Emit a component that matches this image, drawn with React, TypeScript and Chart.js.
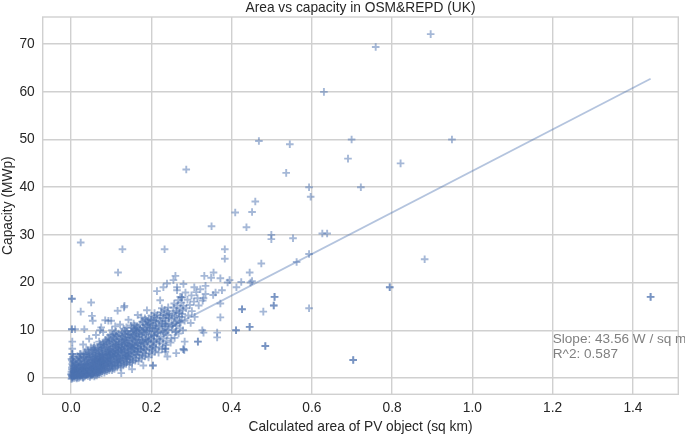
import React, { useEffect, useRef } from "react";
import { Chart, registerables } from "chart.js";

Chart.register(...registerables);

const chartTitle = "Area vs capacity in OSM&REPD (UK)";
const xAxisTitle = "Calculated area of PV object (sq km)";
const yAxisTitle = "Capacity (MWp)";
const xTickValues = [0, 0.2, 0.4, 0.6, 0.8, 1.0, 1.2, 1.4];
const yTickValues = [0, 10, 20, 30, 40, 50, 60, 70];
const annotationLines = ["Slope: 43.56 W / sq m", "R^2: 0.587"];
const annotationAt = [1.2, 7.3];
const fitLineX = [0, 1.444];
const fitLineY = [-0.15, 62.75];

// dense cluster of small installations (area sq km, capacity MWp)
const clusterPoints: [number, number][] = [
  [0.001,-0.2],[0.004,0.1],[0.002,0.4],[0.006,0.6],[0.003,0.9],[0.008,1.1],[0.001,1.3],[0.005,1.6],[0.009,1.9],[0.002,2.2],[0.006,2.5],[0.003,2.9],[0.011,0.2],[0.010,0.7],[0.007,1.4],[0.012,2.0],[0.004,3.3],[0.002,3.7],[0.008,0.0],[0.001,0.6],[0.010,2.8],[0.005,4.4],
  [0.014,-0.1],[0.017,0.3],[0.021,0.5],[0.015,0.8],[0.025,0.9],[0.019,1.2],[0.023,1.5],[0.016,1.8],[0.027,2.0],[0.020,2.3],[0.014,2.6],[0.024,2.9],[0.018,3.3],[0.026,3.7],[0.022,4.2],[0.016,4.6],[0.028,0.2],[0.013,1.1],[0.025,1.3],[0.021,2.7],[0.019,0.0],
  [0.030,0.0],[0.034,0.3],[0.038,0.6],[0.042,0.4],[0.031,0.9],[0.036,1.1],[0.044,1.0],[0.033,1.4],[0.040,1.6],[0.029,1.9],[0.037,2.1],[0.043,2.3],[0.032,2.6],[0.039,2.9],[0.045,3.1],[0.035,3.4],[0.041,3.8],[0.030,4.1],[0.038,4.5],[0.044,4.9],[0.034,5.3],[0.042,5.8],[0.036,1.8],[0.040,0.9],[0.033,3.0],
  [0.047,0.2],[0.052,0.5],[0.058,0.3],[0.049,0.8],[0.055,1.0],[0.061,1.2],[0.046,1.4],[0.053,1.7],[0.060,1.9],[0.050,2.2],[0.057,2.5],[0.062,2.8],[0.048,3.0],[0.054,3.3],[0.059,3.6],[0.051,3.9],[0.056,4.3],[0.062,4.6],[0.047,4.9],[0.053,5.3],[0.060,5.6],[0.055,6.0],[0.049,6.4],[0.058,6.8],[0.052,2.0],[0.056,1.4],
  [0.064,0.5],[0.070,0.8],[0.076,1.0],[0.067,1.3],[0.073,1.6],[0.079,1.8],[0.065,2.0],[0.071,2.3],[0.077,2.6],[0.068,2.9],[0.074,3.2],[0.080,3.4],[0.066,3.7],[0.072,4.0],[0.078,4.3],[0.069,4.6],[0.075,5.0],[0.063,5.3],[0.071,5.7],[0.077,6.0],[0.067,6.4],[0.074,6.8],[0.079,7.2],[0.070,7.6],[0.076,2.0],[0.072,3.6],
  [0.083,1.1],[0.089,1.4],[0.095,1.6],[0.086,1.9],[0.092,2.2],[0.098,2.5],[0.082,2.7],[0.088,3.0],[0.094,3.3],[0.099,3.6],[0.085,3.9],[0.091,4.2],[0.097,4.5],[0.084,4.8],[0.090,5.1],[0.096,5.4],[0.087,5.8],[0.093,6.1],[0.099,6.5],[0.082,6.9],[0.089,7.2],[0.095,7.6],[0.086,8.0],[0.092,8.5],[0.097,9.0],[0.091,3.7],[0.094,4.9],
  [0.102,1.6],[0.108,1.9],[0.115,2.2],[0.104,2.5],[0.111,2.8],[0.118,3.1],[0.101,3.4],[0.107,3.7],[0.114,4.0],[0.120,4.3],[0.105,4.6],[0.112,4.9],[0.117,5.3],[0.103,5.6],[0.110,5.9],[0.116,6.3],[0.106,6.7],[0.113,7.0],[0.119,7.4],[0.104,7.8],[0.109,8.2],[0.115,8.7],[0.107,9.2],[0.112,9.7],[0.118,3.6],[0.110,5.1],
  [0.123,2.2],[0.130,2.6],[0.137,2.9],[0.126,3.2],[0.133,3.5],[0.140,3.8],[0.122,4.1],[0.129,4.4],[0.136,4.8],[0.142,5.1],[0.125,5.4],[0.132,5.8],[0.139,6.1],[0.124,6.5],[0.131,6.8],[0.138,7.2],[0.127,7.6],[0.134,8.0],[0.141,8.4],[0.128,8.8],[0.135,9.3],[0.140,9.8],[0.131,10.3],[0.137,4.5],[0.126,6.0],
  [0.145,2.8],[0.152,3.2],[0.160,3.6],[0.148,4.0],[0.155,4.4],[0.163,4.8],[0.144,5.2],[0.151,5.6],[0.158,6.0],[0.165,6.3],[0.147,6.7],[0.154,7.1],[0.161,7.5],[0.146,7.9],[0.153,8.3],[0.159,8.7],[0.164,9.2],[0.150,9.6],[0.157,10.0],[0.162,10.5],[0.149,11.0],[0.156,11.4],[0.160,5.4],[0.152,6.4],
  [0.168,3.5],[0.176,4.0],[0.184,4.5],[0.171,4.9],[0.179,5.4],[0.187,5.8],[0.167,6.2],[0.174,6.7],[0.182,7.1],[0.189,7.6],[0.170,8.0],[0.178,8.5],[0.185,9.0],[0.169,9.4],[0.176,9.9],[0.183,10.3],[0.190,10.8],[0.172,11.2],[0.180,11.7],[0.186,12.2],[0.175,12.7],[0.181,6.4],[0.173,7.3],
  [0.193,4.3],[0.201,4.9],[0.209,5.5],[0.196,6.1],[0.204,6.7],[0.212,7.2],[0.192,7.7],[0.199,8.3],[0.207,8.8],[0.214,9.4],[0.195,9.9],[0.203,10.4],[0.210,11.0],[0.197,11.5],[0.205,12.0],[0.213,12.6],[0.200,13.1],[0.208,13.6],[0.194,12.3],[0.206,7.5],
  [0.218,5.3],[0.227,6.1],[0.236,6.9],[0.221,7.6],[0.230,8.3],[0.240,9.0],[0.217,9.6],[0.225,10.2],[0.234,10.8],[0.243,11.4],[0.220,12.0],[0.229,12.6],[0.238,13.2],[0.224,13.8],[0.233,14.3],[0.242,14.8],[0.228,11.0],[0.236,9.5],
  [0.248,7.4],[0.258,8.4],[0.268,9.3],[0.252,10.1],[0.262,10.9],[0.273,11.6],[0.250,12.3],[0.259,13.0],[0.269,13.6],[0.278,14.2],[0.255,14.7],[0.265,15.2],[0.275,15.8],[0.260,11.5],[0.270,12.8],
  [0.283,12.0],[0.292,13.1],[0.301,14.0],[0.287,14.6],[0.296,15.3],[0.306,16.0],[0.315,16.7],[0.290,16.4],[0.300,17.3],[0.312,18.0],[0.322,18.6],[0.285,17.9],[0.298,11.5],[0.308,12.8],[0.318,15.2],[0.328,16.2],[0.335,17.6],
];

// more records inside the same dense band
const clusterPointsB: [number, number][] = [
  [0.003,0.2],[0.007,0.4],[0.000,0.8],[0.005,1.2],[0.010,1.5],[0.002,1.8],[0.008,2.2],[0.004,2.6],[0.011,3.1],[0.006,3.5],[0.001,4.0],[0.009,0.9],[0.012,1.7],[0.003,-0.1],
  [0.015,0.1],[0.022,0.2],[0.027,0.6],[0.018,0.7],[0.013,1.4],[0.021,1.0],[0.026,1.7],[0.017,2.1],[0.023,2.4],[0.028,2.7],[0.015,3.0],[0.020,3.5],[0.025,4.0],[0.019,4.4],[0.024,5.0],[0.014,3.9],
  [0.031,0.2],[0.036,0.5],[0.041,0.8],[0.045,1.3],[0.030,1.2],[0.035,1.6],[0.039,2.4],[0.044,2.0],[0.031,2.2],[0.034,2.8],[0.042,3.3],[0.037,3.7],[0.032,4.4],[0.040,4.2],[0.045,4.4],[0.036,4.9],[0.043,5.4],[0.038,6.0],
  [0.048,0.5],[0.054,0.7],[0.060,0.6],[0.051,1.1],[0.057,1.5],[0.062,1.7],[0.049,1.9],[0.055,2.2],[0.061,2.4],[0.047,2.6],[0.053,2.8],[0.058,3.1],[0.062,3.4],[0.050,3.5],[0.056,3.9],[0.060,4.1],[0.048,4.4],[0.054,4.7],[0.059,5.0],[0.051,5.8],[0.057,6.3],[0.061,6.0],
  [0.066,0.9],[0.072,1.2],[0.078,1.4],[0.064,1.6],[0.070,2.0],[0.075,2.3],[0.080,2.5],[0.066,2.6],[0.073,2.8],[0.078,3.0],[0.064,3.3],[0.070,3.5],[0.076,3.8],[0.080,4.0],[0.067,4.2],[0.073,4.5],[0.079,4.8],[0.065,4.9],[0.071,5.2],[0.077,5.5],[0.068,5.9],[0.075,6.3],[0.080,6.5],[0.072,7.1],
  [0.085,1.5],[0.091,1.8],[0.097,2.0],[0.083,2.3],[0.089,2.6],[0.095,2.9],[0.084,3.2],[0.090,3.5],[0.096,3.9],[0.082,4.1],[0.088,4.4],[0.094,4.7],[0.099,5.0],[0.086,5.3],[0.092,5.6],[0.098,6.0],[0.084,6.3],[0.090,6.6],[0.096,7.0],[0.088,7.7],[0.094,8.1],[0.083,7.5],[0.099,8.0],
  [0.104,2.0],[0.110,2.4],[0.117,2.6],[0.102,2.9],[0.108,3.2],[0.115,3.4],[0.120,3.8],[0.104,4.1],[0.110,4.4],[0.116,4.6],[0.101,5.0],[0.107,5.3],[0.114,5.6],[0.119,5.9],[0.105,6.2],[0.111,6.5],[0.117,6.8],[0.102,7.2],[0.108,7.5],[0.114,7.8],[0.119,8.1],[0.106,8.6],[0.112,8.9],[0.118,9.3],[0.103,9.0],
  [0.125,2.6],[0.132,3.0],[0.139,3.3],[0.123,3.6],[0.130,4.0],[0.136,4.2],[0.142,4.5],[0.127,4.8],[0.134,5.1],[0.140,5.5],[0.122,5.8],[0.129,6.2],[0.135,6.5],[0.141,6.8],[0.126,7.1],[0.133,7.4],[0.139,7.8],[0.124,8.2],[0.130,8.5],[0.137,8.9],[0.142,9.2],[0.127,9.6],[0.134,9.9],[0.138,10.6],[0.124,9.1],
  [0.147,3.3],[0.154,3.7],[0.162,4.1],[0.145,4.5],[0.151,4.8],[0.158,5.1],[0.165,5.6],[0.148,5.9],[0.155,6.3],[0.162,6.7],[0.144,6.9],[0.151,7.3],[0.158,7.7],[0.164,8.0],[0.149,8.4],[0.156,8.8],[0.162,9.6],[0.146,9.2],[0.153,9.8],[0.159,10.2],[0.165,10.8],[0.151,10.5],[0.158,11.0],
  [0.170,4.3],[0.178,4.7],[0.186,5.1],[0.167,5.5],[0.175,5.9],[0.183,6.1],[0.190,6.6],[0.171,7.0],[0.179,7.6],[0.187,8.1],[0.168,8.6],[0.175,9.0],[0.182,9.5],[0.189,9.8],[0.172,10.2],[0.179,10.6],[0.186,11.1],[0.168,10.5],[0.177,11.8],[0.184,12.5],[0.190,12.0],
  [0.195,5.2],[0.203,5.8],[0.211,6.3],[0.198,7.0],[0.206,7.7],[0.214,8.2],[0.193,8.6],[0.201,9.1],[0.209,9.7],[0.196,10.5],[0.204,11.0],[0.212,11.6],[0.199,12.2],[0.207,12.8],[0.215,13.2],[0.193,11.3],[0.210,10.3],
  [0.220,6.5],[0.229,7.2],[0.238,7.8],[0.223,8.7],[0.232,9.3],[0.242,10.0],[0.219,10.8],[0.227,11.4],[0.236,12.0],[0.244,12.6],[0.222,13.0],[0.231,13.5],[0.240,14.0],[0.226,14.6],[0.235,11.3],[0.243,13.0],
  [0.250,8.3],[0.260,9.6],[0.271,10.4],[0.254,11.2],[0.264,12.0],[0.276,12.8],[0.252,13.5],[0.262,14.1],[0.272,14.6],[0.257,15.6],[0.280,15.1],[0.267,16.3],
];

// records at the heart of the band, where the marks fully overlap
const clusterCore: [number, number][] = [
  [0.004,0.5],[0.009,1.3],[0.006,2.0],[0.013,0.6],[0.018,1.6],[0.024,0.4],[0.022,2.0],[0.029,1.1],[0.033,2.0],[0.037,0.8],[0.041,2.7],[0.046,1.8],[0.050,0.7],
  [0.052,3.1],[0.057,2.1],[0.060,3.8],[0.065,1.1],[0.068,3.2],[0.071,4.4],[0.074,2.1],[0.078,3.6],[0.081,5.0],[0.085,2.8],[0.088,4.8],[0.092,3.1],[0.095,5.8],
  [0.098,4.2],[0.101,2.7],[0.104,5.4],[0.108,4.5],[0.111,6.9],[0.114,3.3],[0.117,5.6],[0.120,7.1],[0.124,4.7],[0.127,6.3],[0.130,8.0],[0.133,5.3],[0.136,7.5],
  [0.139,4.1],[0.142,6.6],[0.145,8.5],[0.148,5.3],[0.151,7.0],[0.154,9.0],[0.157,6.2],[0.160,8.1],[0.163,10.0],[0.166,7.2],[0.170,9.1],[0.174,6.0],[0.177,8.0],
  [0.180,10.0],[0.184,7.4],[0.187,9.5],[0.191,11.2],[0.194,8.0],[0.198,10.0],[0.202,6.4],[0.206,9.0],[0.210,12.0],[0.214,10.6],[0.219,8.0],[0.224,11.8],[0.229,9.8],
  [0.234,12.5],[0.239,10.8],[0.245,13.4],[0.251,11.0],[0.257,12.6],[0.263,13.8],[0.270,11.8],[0.277,13.4],
];

// scattered installations around the cluster
const spreadPoints: [number, number][] = [
  [0.002,16.6],[0.050,15.8],[0.024,13.9],[0.052,13.0],[0.116,14.1],[0.132,14.8],[0.133,15.1],[0.166,13.2],[0.189,14.2],
  [0.054,12.0],[0.093,12.0],[0.100,12.0],[0.085,12.1],[0.002,10.2],[0.010,10.2],[0.033,10.2],[0.075,10.6],[0.102,10.0],[0.072,10.0],
  [0.003,7.6],[0.003,6.1],[0.003,5.0],[0.022,5.0],[0.031,5.0],[0.005,4.1],[0.070,1.3],[0.117,22.1],
  [0.030,7.0],[0.045,8.2],[0.062,9.0],[0.080,9.6],[0.122,11.2],[0.143,12.2],[0.110,10.8],
  [0.125,1.0],[0.152,1.8],[0.180,2.6],[0.204,2.6],[0.240,4.5],[0.262,5.2],[0.235,6.1],[0.235,5.5],
  [0.214,18.2],[0.230,19.0],[0.239,19.8],[0.255,20.5],[0.260,21.4],[0.264,19.0],[0.264,18.4],[0.280,19.7],[0.307,19.0],
  [0.335,19.3],[0.332,21.4],[0.349,21.0],[0.355,22.1],[0.360,17.9],[0.354,17.4],[0.372,20.9],[0.376,18.4],[0.390,20.0],
  [0.395,20.5],[0.412,19.0],[0.424,20.1],[0.445,22.1],[0.447,20.0],[0.451,20.3],[0.330,16.7],[0.276,16.9],[0.272,17.0],[0.222,16.3],
  [0.372,15.6],[0.479,13.9],[0.593,14.6],[0.372,12.7],[0.364,9.5],[0.364,8.5],[0.330,9.5],[0.316,7.6],[0.283,7.6],[0.280,6.0],
  [0.282,5.8],[0.262,9.7],[0.279,10.0],[0.327,10.0],[0.426,14.4],[0.505,15.2],[0.507,17.0],[0.445,10.7],[0.411,10.0],[0.484,6.7],
];

// large installations far from the cluster
const outlierPoints: [number, number][] = [
  [0.896,72.1],[0.759,69.4],[0.630,60.0],[0.699,50.0],[0.468,49.7],[0.545,49.0],[0.949,50.0],[0.690,46.0],[0.821,45.0],
  [0.287,43.7],[0.536,43.0],[0.593,40.0],[0.722,40.0],[0.597,38.0],[0.459,37.0],[0.409,34.7],[0.451,34.8],[0.350,31.8],
  [0.437,31.6],[0.499,30.0],[0.499,29.1],[0.553,29.3],[0.626,30.3],[0.638,30.3],[0.024,28.4],[0.128,27.0],[0.233,27.0],
  [0.383,27.0],[0.383,25.0],[0.474,24.0],[0.562,24.3],[0.593,26.0],[0.881,24.9],[0.794,19.0],[1.444,17.0],[0.703,3.75],
];

// coincident records (same position appears twice)
const repeatedPoints: [number, number][] = [
  [0.002,16.6],[0.002,10.2],[0.003,5.0],[0.204,2.6],[0.235,6.1],[0.276,16.9],[0.316,7.6],[0.280,6.0],[0.426,14.4],
  [0.505,15.2],[0.507,17.0],[0.445,10.7],[0.411,10.0],[0.484,6.7],[0.794,19.0],[1.444,17.0],[0.703,3.75],
];

const FONT = "'Liberation Sans', Arial, Helvetica, sans-serif";
const TEXT_COLOR = "#262626";
const GRID_COLOR = "#d0d0d0";

const framePlugin = {
  id: "frameAndNote",
  beforeDatasetsDraw(chart: any) {
    const { ctx, chartArea: a } = chart;
    ctx.save();
    ctx.strokeStyle = GRID_COLOR;
    ctx.lineWidth = 1.4;
    ctx.strokeRect(a.left, a.top, a.right - a.left, a.bottom - a.top);
    ctx.restore();
  },
  afterDraw(chart: any) {
    const { ctx, scales } = chart;
    const x = scales.x.getPixelForValue(annotationAt[0]);
    const y = scales.y.getPixelForValue(annotationAt[1]);
    ctx.save();
    ctx.font = `13.6px ${FONT}`;
    ctx.fillStyle = "#808080";
    ctx.textAlign = "left";
    ctx.textBaseline = "alphabetic";
    annotationLines.forEach((t, i) => ctx.fillText(t, x, y + i * 14.5));
    ctx.restore();
  },
};

export default function App() {
  const canvasRef = useRef<HTMLCanvasElement | null>(null);

  useEffect(() => {
    if (!canvasRef.current) return;
    const toXY = (p: [number, number]) => ({ x: p[0], y: p[1] });
    const scatter = [...clusterPoints, ...clusterPointsB, ...clusterCore, ...spreadPoints, ...outlierPoints, ...repeatedPoints].map(toXY);
    const fitLine = fitLineX.map((x, i) => ({ x, y: fitLineY[i] }));

    const chart = new Chart(canvasRef.current, {
      type: "scatter",
      data: {
        datasets: [
          {
            label: "fit",
            data: fitLine,
            showLine: true,
            pointRadius: 0,
            borderColor: "rgba(76,114,176,0.42)",
            borderWidth: 1.8,
            fill: false,
          } as any,
          {
            label: "objects",
            data: scatter,
            pointStyle: "cross",
            pointRadius: 3.8,
            pointBorderWidth: 1.9,
            pointBorderColor: "rgba(76,114,176,0.5)",
            pointBackgroundColor: "rgba(76,114,176,0.5)",
            pointHoverRadius: 3.8,
          } as any,
        ],
      },
      options: {
        animation: false,
        responsive: false,
        maintainAspectRatio: false,
        devicePixelRatio: 1,
        layout: { padding: { left: 0, right: 6.7, top: 0, bottom: 0 } },
        plugins: {
          legend: { display: false },
          tooltip: { enabled: false },
          title: {
            display: true,
            fullSize: false,
            text: chartTitle,
            color: TEXT_COLOR,
            font: { family: FONT, size: 13.75, weight: "normal", lineHeight: 1.2 },
            padding: { top: 0, bottom: 0.5 },
          },
        },
        scales: {
          x: {
            type: "linear",
            min: -0.0707,
            max: 1.513,
            afterFit: (s: any) => { s.height = 40.7; s.paddingLeft = 0; s.paddingRight = 0; },
            afterBuildTicks: (s: any) => { s.ticks = xTickValues.map((v) => ({ value: v })); },
            ticks: {
              color: TEXT_COLOR,
              font: { family: FONT, size: 13.75 },
              padding: 5.5,
              callback: (v: any) => Number(v).toFixed(1),
            },
            grid: { color: GRID_COLOR, lineWidth: 1.4, drawTicks: false },
            border: { display: false },
            title: {
              display: true,
              text: xAxisTitle,
              color: TEXT_COLOR,
              font: { family: FONT, size: 13.75, lineHeight: 1.2 },
              padding: { top: 0, bottom: 0 },
            },
          },
          y: {
            type: "linear",
            min: -3.44,
            max: 75.7,
            afterFit: (s: any) => { s.width = 42.7; s.paddingTop = 0; s.paddingBottom = 0; },
            afterBuildTicks: (s: any) => { s.ticks = yTickValues.map((v) => ({ value: v })); },
            ticks: {
              color: TEXT_COLOR,
              font: { family: FONT, size: 13.75 },
              padding: 8,
              callback: (v: any) => String(v),
            },
            grid: { color: GRID_COLOR, lineWidth: 1.4, drawTicks: false },
            border: { display: false },
            title: {
              display: true,
              text: yAxisTitle,
              color: TEXT_COLOR,
              font: { family: FONT, size: 13.75, lineHeight: 1.2 },
              padding: { top: 0, bottom: 0 },
            },
          },
        },
      },
      plugins: [framePlugin],
    });
    return () => chart.destroy();
  }, []);

  return (
    <div style={{ position: "absolute", left: 0, top: 0, width: 685, height: 435, background: "#ffffff" }}>
      <canvas ref={canvasRef} width={685} height={435} style={{ width: 685, height: 435, display: "block" }} />
    </div>
  );
}
